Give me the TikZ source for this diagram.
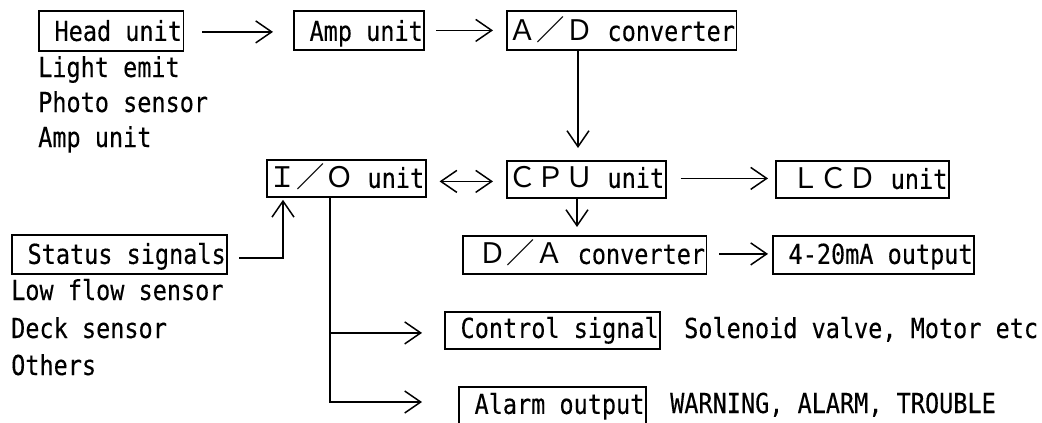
\documentclass[tikz,border=0pt]{standalone}
\usepackage{fontspec}
\setmainfont{DejaVu Sans Mono}[FakeStretch=0.855,FakeBold=0.25]
\newfontfamily\jpfont{Noto Sans CJK JP}[Scale=1.03]
\newcommand\fw[1]{{\jpfont #1}}
\usetikzlibrary{arrows.meta}
\begin{document}
\begin{tikzpicture}[x=1pt,y=-1pt,
  every node/.style={font=\fontsize{27.5}{30}\selectfont, inner sep=0pt},
  box/.style 2 args={draw, line width=1.8pt, inner xsep=1.5pt, inner ysep=0pt,
    anchor=north west, text height=#1pt, text depth=#2pt},
  lbl/.style={anchor=base west},
  arr/.style={line width=1.5pt, -{Straight Barb[length=16pt,width=22pt]}},
  darr/.style={line width=1.5pt, {Straight Barb[length=16pt,width=22pt]}-{Straight Barb[length=16pt,width=22pt]}}
]
\useasboundingbox (0,0) rectangle (1042,423);

% boxes
\node[box={30}{10}] (head) at (38,10) {~Head unit~};
\node[box={30}{9}] (amp) at (293,10) {~Amp unit};
\node[box={30}{9}] (ad) at (506,10) {\fw{Ａ／Ｄ}~converter};
\node[box={28}{9}] (io) at (266,159) {\fw{Ｉ／Ｏ}~unit};
\node[box={27}{10}] (cpu) at (506,160) {\fw{ＣＰＵ}~unit};
\node[box={28}{9}] (lcd) at (775,160) {~\fw{ＬＣＤ}~unit~};
\node[box={28}{10}] (da) at (462,235) {~\fw{Ｄ／Ａ}~converter};
\node[box={28}{10}] (ma) at (772,235) {~4-20mA output};
\node[box={29}{10}] (status) at (11,234) {~Status signals};
\node[box={26}{11}] (ctrl) at (444,311) {~Control signal};
\node[box={27}{13}] (alarm) at (458,386) {~Alarm output};

% plain labels
\node[lbl] (l1) at (38,77) {Light emit};
\node[lbl] (l2) at (38,112) {Photo sensor};
\node[lbl] (l3) at (38,147) {Amp unit};
\node[lbl] (s1) at (11,300) {Low flow sensor};
\node[lbl] (s2) at (11,338) {Deck sensor};
\node[lbl] (s3) at (11,375) {Others};
\node[lbl] (c1) at (684,338) {Solenoid valve, Motor etc};
\node[lbl] (a1) at (670,413) {WARNING, ALARM, TROUBLE};

% connectors
\draw[arr, shorten <=18pt, shorten >=20pt] ([yshift=-1pt]head.east) -- ([yshift=-1pt]head.east -| amp.west);
\draw[arr, shorten <=11pt, shorten >=13pt] (amp.east) -- (amp.east -| ad.west);
\draw[arr, shorten >=12pt] (ad.south -| 578,0) -- (cpu.north -| 578,0);
\draw[darr, shorten <=13pt, shorten >=13pt] ([yshift=-3pt]io.east) -- ([yshift=-3pt]io.east -| cpu.west);
\draw[arr, shorten <=14pt, shorten >=7pt] ([yshift=1pt]cpu.east) -- ([yshift=1pt]cpu.east -| lcd.west);
\draw[arr, shorten >=8pt] (cpu.south -| 577,0) -- (da.north -| 577,0);
\draw[arr, shorten <=12pt, shorten >=4pt] ([yshift=1pt]da.east) -- ([yshift=1pt]da.east -| ma.west);
\draw[arr, shorten <=11pt, shorten >=2pt] ([yshift=-3.5pt]status.east) -| (io.south -| 283,0);
\draw[arr, shorten >=22pt] (io.south -| 330,0) |- ([yshift=-2.5pt]ctrl.west);
\draw[arr, shorten >=36pt] (io.south -| 330,0) |- ([yshift=-16pt]alarm.north west);
\end{tikzpicture}
\end{document}
